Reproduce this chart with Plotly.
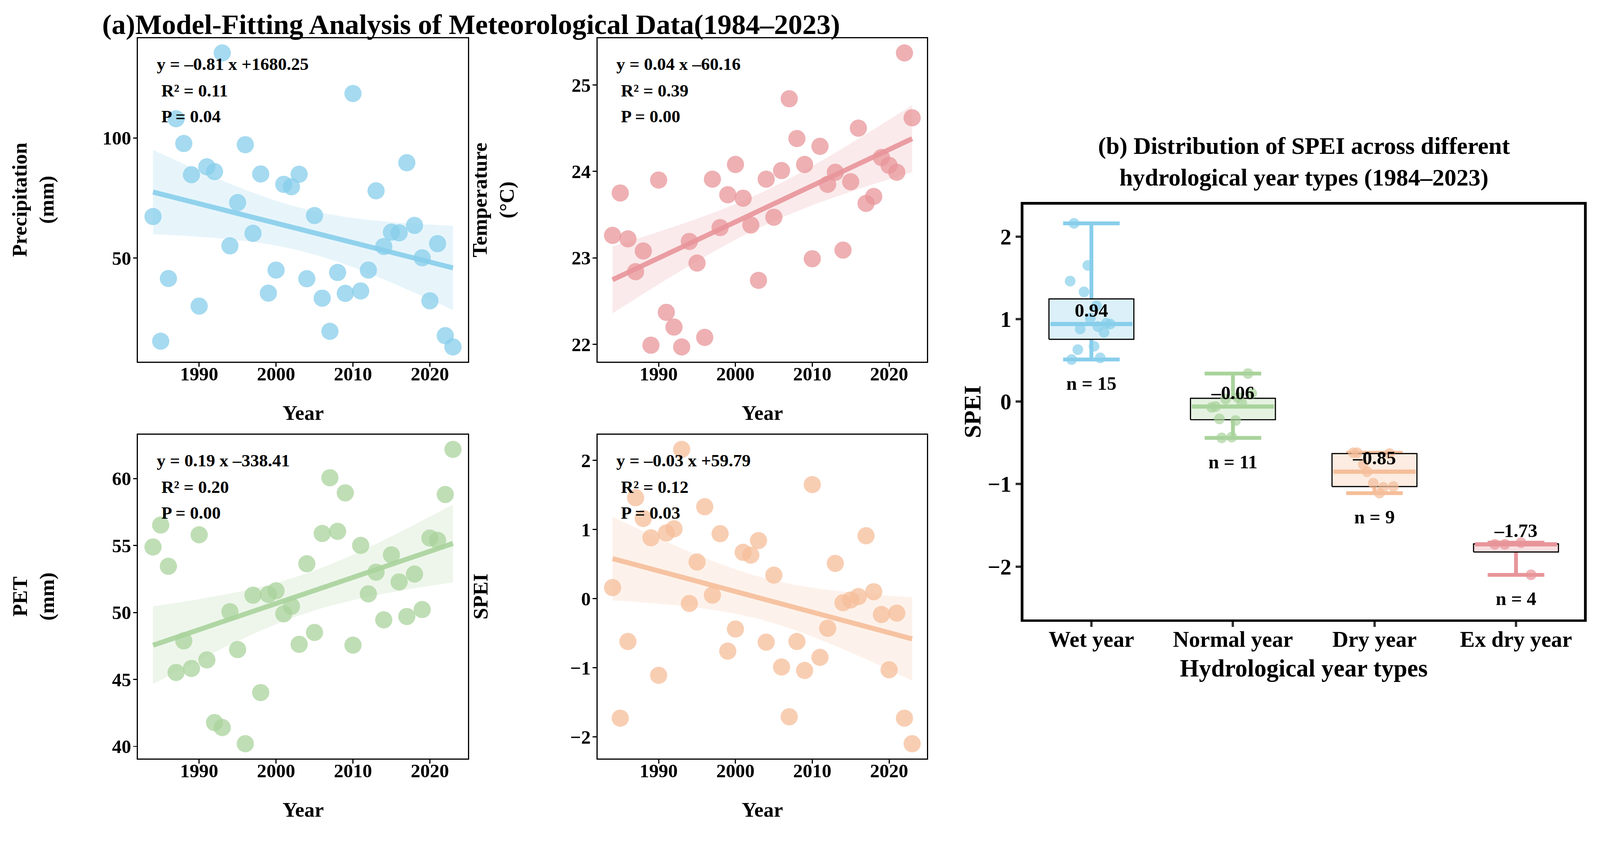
import numpy as np
import plotly.graph_objects as go

W, H = 4185, 2166
FONT = "Liberation Serif, Times New Roman, serif"

# ---- data ----
years = list(range(1984, 2024))

precipitation = [67.3, 15.4, 41.5, 108.0, 97.7, 84.7, 30.0, 88.0, 86.0, 135.4,
                 55.1, 73.1, 97.2, 60.3, 85.0, 35.4, 45.0, 80.7, 79.7, 84.9,
                 41.4, 67.7, 33.3, 19.5, 44.0, 35.3, 118.5, 36.3, 45.0, 78.0,
                 54.8, 60.8, 60.5, 89.7, 63.6, 50.1, 32.2, 56.0, 17.7, 13.0]

temperature = [23.26, 23.75, 23.22, 22.84, 23.08, 21.99, 23.90, 22.37, 22.20, 21.97,
               23.19, 22.94, 22.08, 23.91, 23.35, 23.73, 24.08, 23.69, 23.38, 22.74,
               23.91, 23.47, 24.01, 24.84, 24.38, 24.08, 22.99, 24.29, 23.85, 23.99,
               23.09, 23.88, 24.50, 23.63, 23.71, 24.16, 24.07, 23.99, 25.37, 24.62]

pet = [54.89, 56.53, 53.45, 45.52, 47.88, 45.82, 55.80, 46.46, 41.78, 41.41,
       50.06, 47.23, 40.20, 51.29, 44.02, 51.35, 51.62, 49.90, 50.46, 47.62,
       53.64, 48.51, 55.90, 60.06, 56.06, 58.93, 47.56, 55.01, 51.39, 53.01,
       49.45, 54.30, 52.28, 49.70, 52.87, 50.22, 55.56, 55.39, 58.81, 62.18]

spei = [0.16, -1.73, -0.62, 1.46, 1.16, 0.88, -1.11, 0.95, 1.01, 2.16,
        -0.07, 0.53, 1.33, 0.05, 0.94, -0.76, -0.44, 0.67, 0.63, 0.84,
        -0.63, 0.34, -0.99, -1.71, -0.62, -1.04, 1.65, -0.85, -0.43, 0.51,
        -0.06, -0.02, 0.03, 0.91, 0.10, -0.23, -1.03, -0.21, -1.73, -2.10]

panel_series = [precipitation, temperature, pet, spei]
panel_ylabels = ["Precipitation<br>(mm)", "Temperature<br>(°C)", "PET<br>(mm)", "SPEI"]
panel_colors = ["#87CEEB", "#E8959A", "#A9D39C", "#F5BE9A"]
panel_dtick = [50, 1, 5, 1]
panel_stats = [
    ["y = –0.81 x +1680.25", "R² = 0.11", "P = 0.04"],
    ["y = 0.04 x –60.16", "R² = 0.39", "P = 0.00"],
    ["y = 0.19 x –338.41", "R² = 0.20", "P = 0.00"],
    ["y = –0.03 x +59.79", "R² = 0.12", "P = 0.03"],
]

# hydrological year classes (SPEI thresholds), box plot uses 1985-2023
year_types = ["Wet year", "Normal year", "Dry year", "Ex dry year"]
type_bounds = [(0.5, 99), (-0.5, 0.5), (-1.5, -0.5), (-99, -1.5)]
type_colors = ["#87CEEB", "#A9D39C", "#F5BE9A", "#E8959A"]
box_first_year = 1985

T975 = 2.024  # t quantile, df = 38


def rgba(hex_color, a):
    h = hex_color.lstrip("#")
    r, g, b = int(h[0:2], 16), int(h[2:4], 16), int(h[4:6], 16)
    return f"rgba({r},{g},{b},{a})"


def tint(hex_color, a):
    """opaque colour = hex_color at alpha a over white"""
    h = hex_color.lstrip("#")
    rgb = [int(h[i:i + 2], 16) for i in (0, 2, 4)]
    return "rgb(" + ",".join(str(round(a * c + (1 - a) * 255)) for c in rgb) + ")"


def fit_band(x, y, n_pts=80):
    x = np.asarray(x, float)
    y = np.asarray(y, float)
    b, a = np.polyfit(x, y, 1)
    n = len(x)
    s = np.sqrt(np.sum((y - (a + b * x)) ** 2) / (n - 2))
    xs = np.linspace(x.min(), x.max(), n_pts)
    se = s * np.sqrt(1 / n + (xs - x.mean()) ** 2 / np.sum((x - x.mean()) ** 2))
    yhat = a + b * xs
    return xs, yhat, yhat - T975 * se, yhat + T975 * se


def px_x(p):
    return p / W


def px_y(p):
    return 1 - p / H


def label(text, x, y, size, **kw):
    return dict(text=text, xref="paper", yref="paper", x=px_x(x), y=px_y(y),
                xanchor=kw.pop("xanchor", "center"), yanchor="middle",
                showarrow=False, font=dict(size=size), **kw)


fig = go.Figure()

# panel (a) subplot frames in pixels: (left, right, top, bottom)
frames = [(361, 1224, 100, 946), (1563, 2425, 100, 946),
          (361, 1224, 1137, 1984), (1563, 2425, 1137, 1984)]
ylabel_x = [87, 1290, 87, 1257]

axis_style = dict(showline=True, mirror=True, linecolor="black", linewidth=3,
                  ticks="outside", ticklen=10, tickwidth=3, tickcolor="black",
                  showgrid=False, zeroline=False, tickfont=dict(size=50))

annotations = []
for i, vals in enumerate(panel_series):
    xa = "x" if i == 0 else f"x{i + 1}"
    ya = "y" if i == 0 else f"y{i + 1}"
    c = panel_colors[i]
    xs, yhat, lo, hi = fit_band(years, vals)
    fig.add_trace(go.Scatter(x=np.concatenate([xs, xs[::-1]]), y=np.concatenate([hi, lo[::-1]]),
                             fill="toself", fillcolor=rgba(c, 0.2), line=dict(width=0),
                             mode="lines", hoverinfo="skip", showlegend=False, xaxis=xa, yaxis=ya))
    fig.add_trace(go.Scatter(x=xs, y=yhat, mode="lines", line=dict(color=rgba(c, 0.9), width=13),
                             showlegend=False, xaxis=xa, yaxis=ya))
    fig.add_trace(go.Scatter(x=years, y=vals, mode="markers",
                             marker=dict(size=45, color=rgba(c, 0.75), line=dict(width=0)),
                             showlegend=False, xaxis=xa, yaxis=ya))

    l, r, t, b = frames[i]
    vmin, vmax = min(vals), max(vals)
    pad = 0.05 * (vmax - vmin)
    xpad = 0.05 * (years[-1] - years[0])
    key = "" if i == 0 else str(i + 1)
    fig.update_layout({
        f"xaxis{key}": dict(domain=[px_x(l), px_x(r)], anchor=ya,
                            range=[years[0] - xpad, years[-1] + xpad],
                            tickvals=[1990, 2000, 2010, 2020], ticklabelstandoff=-24,
                            **axis_style),
        f"yaxis{key}": dict(domain=[px_y(b), px_y(t)], anchor=xa,
                            range=[vmin - pad, vmax + pad], dtick=panel_dtick[i],
                            ticklabelstandoff=-5, **axis_style),
    })

    for txt, xd, yd in zip(panel_stats[i], [0.054, 0.068, 0.068], [0.92, 0.839, 0.758]):
        annotations.append(dict(text=txt, xref=f"{xa} domain", yref=f"{ya} domain", x=xd, y=yd,
                                xanchor="left", yanchor="middle", showarrow=False, font=dict(size=46)))
    annotations.append(label(panel_ylabels[i], ylabel_x[i], (t + b) / 2, 54,
                             textangle=-90, align="center"))
    annotations.append(label("Year", (l + r) / 2, b + 134, 54))

annotations.append(label("(a)Model-Fitting Analysis of Meteorological Data(1984–2023)",
                         265, 64, 74, xanchor="left"))

# ---- panel (b): SPEI distribution by year type ----
box_w, cap_w = 0.6, 0.4
med_off, n_off = 0.145, 0.31
spei_box = [v for yr, v in zip(years, spei) if yr >= box_first_year]
groups = [[v for v in spei_box if lo < v <= hi] for lo, hi in type_bounds]

label_x, label_y, label_txt = [], [], []
for g, vals in enumerate(groups):
    pos = g + 1
    c = type_colors[g]
    v = np.array(vals)
    q1, med, q3 = np.quantile(v, [0.25, 0.5, 0.75])
    vmin, vmax = v.min(), v.max()
    # error bar (whisker + caps)
    fig.add_trace(go.Scatter(
        x=[pos, pos, None, pos - cap_w / 2, pos + cap_w / 2, None, pos - cap_w / 2, pos + cap_w / 2],
        y=[vmin, vmax, None, vmin, vmin, None, vmax, vmax],
        mode="lines", line=dict(color=c, width=10), showlegend=False, xaxis="x5", yaxis="y5"))
    # box
    fig.add_trace(go.Scatter(
        x=[pos - box_w / 2, pos + box_w / 2, pos + box_w / 2, pos - box_w / 2, pos - box_w / 2],
        y=[q1, q1, q3, q3, q1], mode="lines", fill="toself", fillcolor=tint(c, 0.3),
        line=dict(color="black", width=3), showlegend=False, xaxis="x5", yaxis="y5"))
    # median
    fig.add_trace(go.Scatter(x=[pos - box_w / 2 + 0.01, pos + box_w / 2 - 0.01], y=[med, med],
                             mode="lines", line=dict(color=c, width=11), showlegend=False,
                             xaxis="x5", yaxis="y5"))
    # jittered points (deterministic spread)
    jit = [((k * 0.618034) % 1.0 - 0.5) * 0.3 for k in range(len(vals))]
    fig.add_trace(go.Scatter(x=[pos + j for j in jit], y=vals, mode="markers",
                             marker=dict(size=28, color=rgba(c, 0.7), line=dict(width=0)),
                             showlegend=False, xaxis="x5", yaxis="y5"))
    label_x += [pos, pos]
    label_y += [med + med_off, vmin - n_off]
    label_txt += [f"{med:.2f}".replace("-", "–"), f"n = {len(vals)}"]

fig.add_trace(go.Scatter(x=label_x, y=label_y, text=label_txt, mode="text",
                         textfont=dict(size=50, color="black", family=FONT, weight="bold"),
                         showlegend=False, xaxis="x5", yaxis="y5"))

b_lo = min(min(g) for g in groups) - n_off
b_hi = max(max(g) for g in groups)
b_pad = 0.05 * (b_hi - b_lo)
b_style = dict(showline=True, mirror=True, linecolor="black", linewidth=7,
               ticks="outside", ticklen=13, tickwidth=6, tickcolor="#333333",
               showgrid=False, zeroline=False, tickfont=dict(size=58))
fig.update_layout(
    xaxis5=dict(domain=[px_x(2677), px_x(4143)], anchor="y5", range=[0.52, 4.48],
                tickvals=[1, 2, 3, 4], ticktext=year_types, ticklabelstandoff=-18, **b_style),
    yaxis5=dict(domain=[px_y(1620), px_y(535)], anchor="x5", range=[b_lo - b_pad, b_hi + b_pad],
                tickvals=[-2, -1, 0, 1, 2], **b_style),
)
annotations += [
    label("(b) Distribution of SPEI across different<br>hydrological year types (1984–2023)",
          3410, 423, 63, align="center"),
    label("SPEI", 2544, 1077, 62, textangle=-90),
    label("Hydrological year types", 3410, 1748, 64),
]

fig.update_layout(width=W, height=H, margin=dict(l=0, r=0, t=0, b=0),
                  paper_bgcolor="white", plot_bgcolor="white", showlegend=False,
                  font=dict(family=FONT, color="black", weight="bold"),
                  annotations=annotations)

# fit the fixed-size page into the browser viewport
fit_js = (
    "document.body.style.margin='0';"
    "document.body.style.overflow='hidden';"
    f"var z=Math.min(window.innerWidth/{W}, window.innerHeight/{H});"
    "if (z < 1) { document.body.style.zoom = z; }"
)
fig.write_html("out.html", config={"displayModeBar": False}, post_script=fit_js)
